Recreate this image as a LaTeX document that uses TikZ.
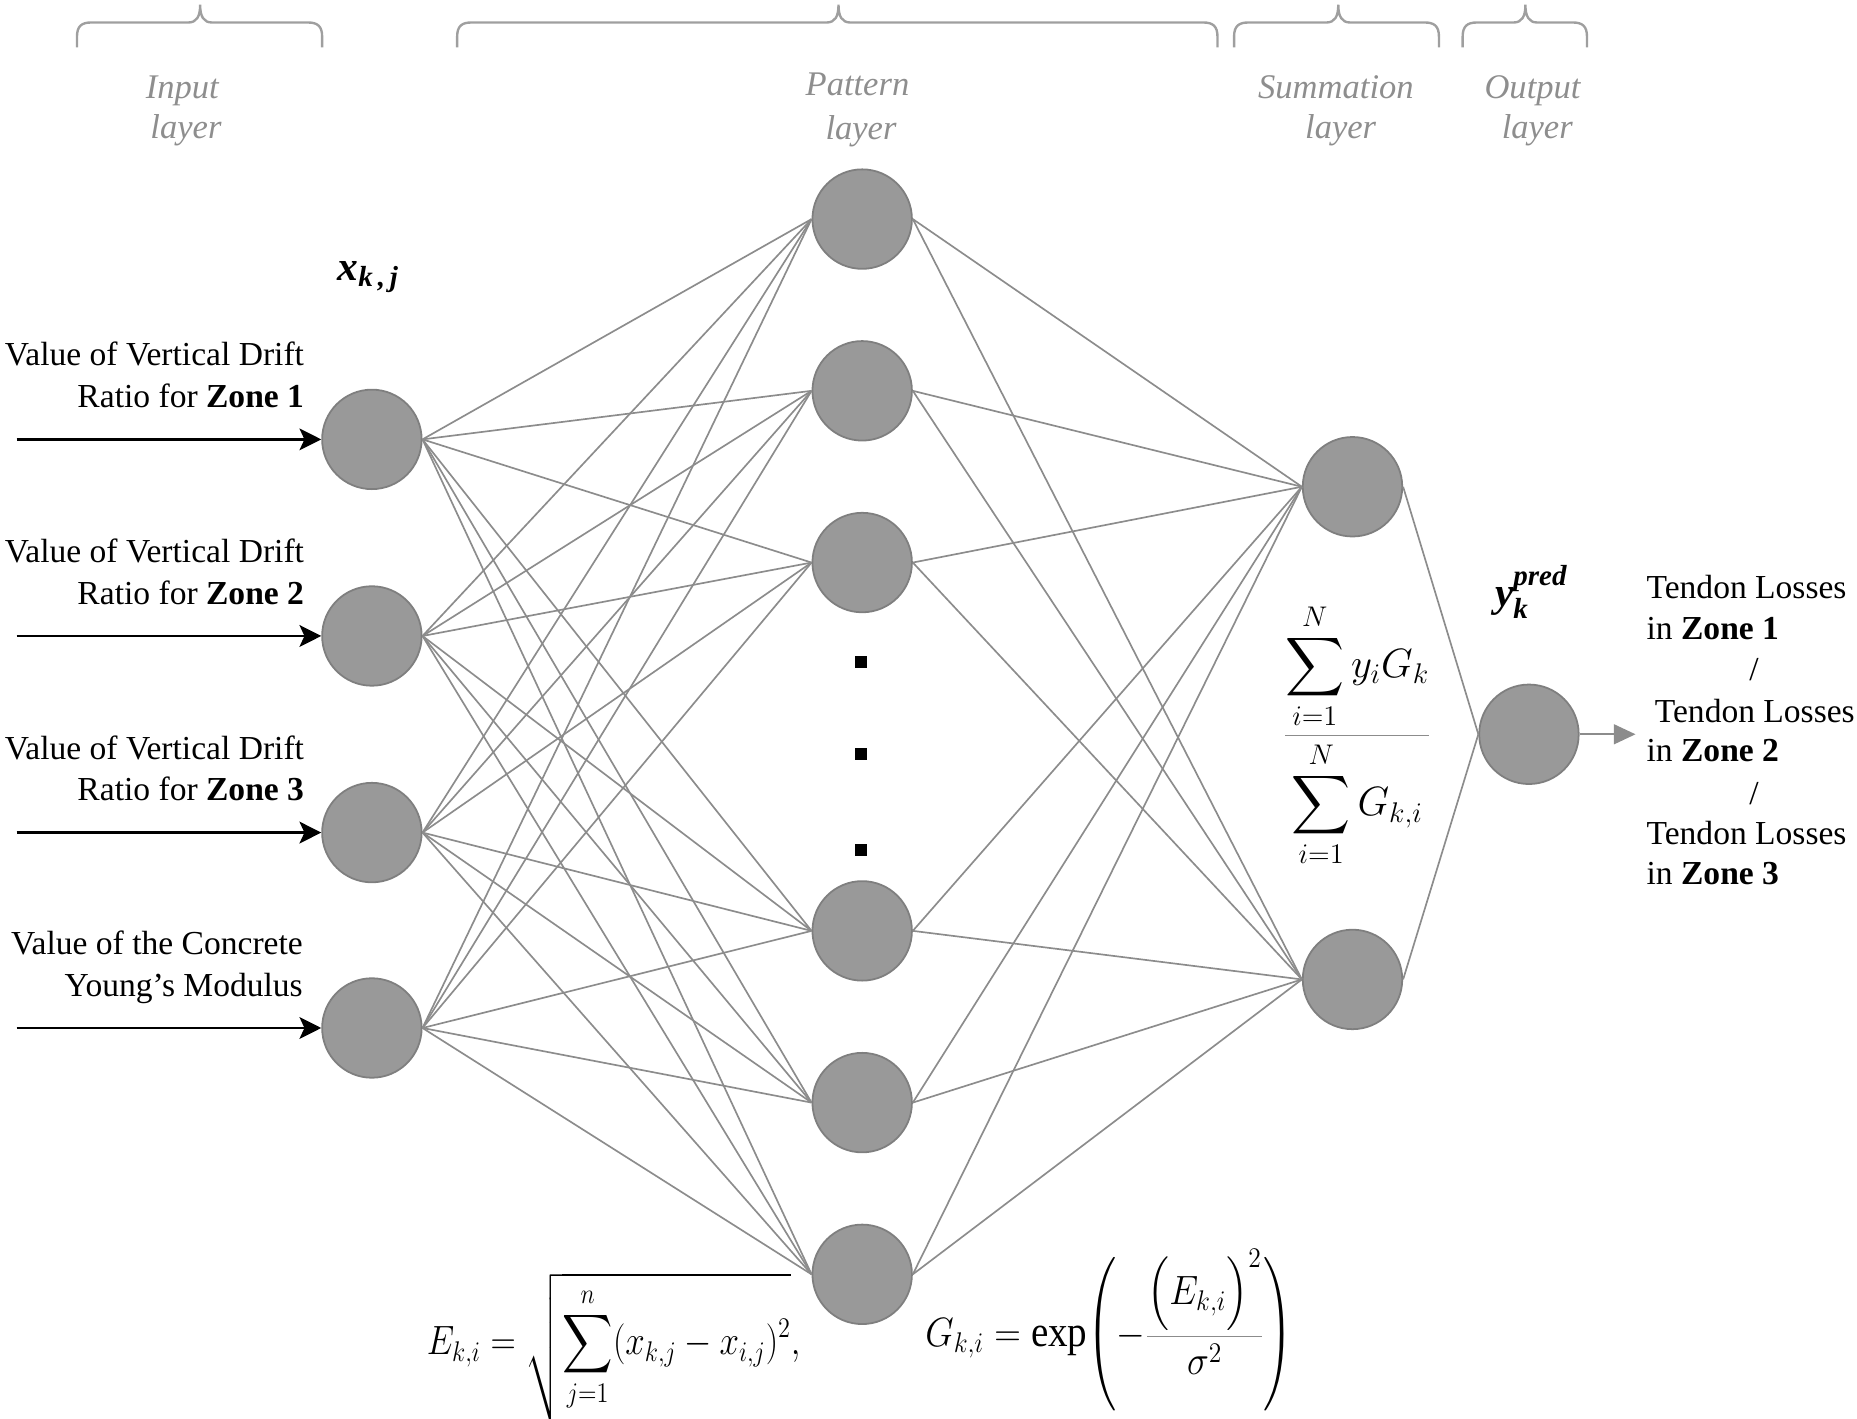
\documentclass[tikz,border=0pt]{standalone}
\usepackage{amsmath}
\usepackage{graphicx}
\usepackage{fontspec}
\setmainfont{Liberation Serif}
\usetikzlibrary{arrows.meta}
\definecolor{nodefill}{HTML}{999999}
\definecolor{nodeline}{HTML}{7F7F7F}
\definecolor{edgecol}{HTML}{8C8C8C}
\definecolor{lblcol}{HTML}{8E8E8E}
\newcommand\drawbrace[3]{%
  \draw[bracestyle] (#1,40) -- (#1,31) .. controls (#1,22) and (#1+4,19) .. (#1+12,19)
   -- (#2-10,19) .. controls (#2-3,19) and (#2,14) .. (#2,4)
   .. controls (#2,14) and (#2+3,19) .. (#2+10,19)
   -- (#3-12,19) .. controls (#3-4,19) and (#3,22) .. (#3,31) -- (#3,40);}
\newcommand\bi[1]{\text{\bfseries\itshape #1}}
\newcommand\tallparL{\mathopen{\scalebox{1}[1.25]{$\Biggl($}}}
\newcommand\tallparR{\mathclose{\scalebox{1}[1.25]{$\Biggr)$}}}
\begin{document}
\begin{tikzpicture}[x=0.6pt,y=-0.6pt,
  neuron/.style={circle,fill=nodefill,draw=nodeline,line width=0.9pt,minimum size=50.4pt,inner sep=0pt},
  edge/.style={draw=edgecol,line width=0.85pt},
  inarrow/.style={draw=black,line width=1.5pt,-{Stealth[length=11pt,width=11pt,inset=2.5pt]}},
  outarrow/.style={draw=edgecol,line width=1.2pt,-{Triangle[length=11pt,width=10pt]}},
  bracestyle/.style={draw=lblcol!85,line width=1.2pt},
  layerlbl/.style={text=lblcol,font=\fontsize{17.5}{21}\selectfont\itshape,inner sep=0pt,anchor=base},
  txt/.style={font=\fontsize{17}{21}\selectfont,inner sep=0pt},
  bigmath/.style={font=\fontsize{21}{25}\selectfont,inner sep=0pt},
  summath/.style={font=\fontsize{20}{24}\selectfont,inner sep=0pt},
  eqmath/.style={font=\fontsize{22}{26}\selectfont,inner sep=0pt,anchor=base west},
  dotsq/.style={rectangle,fill=black,minimum size=6pt,inner sep=0pt},
]
\useasboundingbox (0,0) rectangle (1568,1198);

% braces
\drawbrace{65}{169}{272}
\drawbrace{386}{708}{1028}
\drawbrace{1042}{1130}{1215}
\drawbrace{1235}{1288}{1340}

% layer labels
\node[layerlbl] (li1) at (154,83) {Input};
\node[layerlbl] (li2) at (157,117) {layer};
\node[layerlbl] (lp1) at (724,81) {Pattern};
\node[layerlbl] (lp2) at (727,118) {layer};
\node[layerlbl] (ls1) at (1128,83) {Summation};
\node[layerlbl] (ls2) at (1132,117) {layer};
\node[layerlbl] (lo1) at (1294,83) {Output};
\node[layerlbl] (lo2) at (1298,117) {layer};

% neurons
\node[neuron] (in1) at (314,371) {};
\node[neuron] (in2) at (314,537) {};
\node[neuron] (in3) at (314,703) {};
\node[neuron] (in4) at (314,868) {};
\node[neuron] (p1) at (728,185) {};
\node[neuron] (p2) at (728,330) {};
\node[neuron] (p3) at (728,475) {};
\node[neuron] (p4) at (728,786) {};
\node[neuron] (p5) at (728,931) {};
\node[neuron] (p6) at (728,1076) {};
\node[neuron] (s1) at (1142,411) {};
\node[neuron] (s2) at (1142,827) {};
\node[neuron] (out) at (1291,620) {};

% dots
\node[dotsq] (d1) at (727,559) {};
\node[dotsq] (d2) at (727,637) {};
\node[dotsq] (d3) at (727,718) {};

% connections
\foreach \i in {in1,in2,in3,in4}
  \foreach \j in {p1,p2,p3,p4,p5,p6}
    \draw[edge] (\i.east) -- (\j.west);
\foreach \j in {p1,p2,p3,p4,p5,p6}
  \foreach \k in {s1,s2}
    \draw[edge] (\j.east) -- (\k.west);
\draw[edge] (s1.east) -- (out.west);
\draw[edge] (s2.east) -- (out.west);

% input arrows
\coordinate (a1) at (14,371);
\coordinate (a2) at (14,537);
\coordinate (a3) at (14,703);
\coordinate (a4) at (14,868);
\draw[inarrow] (a1) -- (in1.west);
\draw[inarrow] (a2) -- (in2.west);
\draw[inarrow] (a3) -- (in3.west);
\draw[inarrow] (a4) -- (in4.west);

% output arrow
\coordinate (oe) at (1381,620);
\draw[outarrow] (out.east) -- (oe);

% input texts
\node[txt,anchor=base east] (t1a) at (257,309) {Value of Vertical Drift};
\node[txt,anchor=base east] (t1b) at (257,344) {Ratio for \textbf{Zone 1}};
\node[txt,anchor=base east] (t2a) at (257,475) {Value of Vertical Drift};
\node[txt,anchor=base east] (t2b) at (257,510) {Ratio for \textbf{Zone 2}};
\node[txt,anchor=base east] (t3a) at (257,641) {Value of Vertical Drift};
\node[txt,anchor=base east] (t3b) at (257,676) {Ratio for \textbf{Zone 3}};
\node[txt,anchor=base east] (t4a) at (256,806) {Value of the Concrete};
\node[txt,anchor=base east] (t4b) at (256,841) {Young’s Modulus};

% output texts
\node[txt,anchor=base west] (o1a) at (1390,505) {Tendon Losses};
\node[txt,anchor=base west] (o1b) at (1390,540) {in \textbf{Zone 1}};
\node[txt,anchor=base] (os1) at (1481,575) {/};
\node[txt,anchor=base west] (o2a) at (1397,610) {Tendon Losses};
\node[txt,anchor=base west] (o2b) at (1390,643) {in \textbf{Zone 2}};
\node[txt,anchor=base] (os2) at (1481,679) {/};
\node[txt,anchor=base west] (o3a) at (1390,713) {Tendon Losses};
\node[txt,anchor=base west] (o3b) at (1390,747) {in \textbf{Zone 3}};

% math labels
\node[bigmath] (xkj) at (311,234) {$\bi{x}_{\bi{k\,,\,j}}$};
\node[bigmath] (ypred) at (1293,500) {$\bi{y}_{\bi{k}}^{\bi{pred}}$};

\node[summath] (sumf) at (1146,621)
  {$\color{edgecol}\dfrac{\color{black}\displaystyle\sum_{i=1}^{N} y_i G_k}{\color{black}\displaystyle\sum_{i=1}^{N} G_{k,i}}$};

\node[eqmath] (eqE) at (360,1144)
  {\scalebox{0.855}[1]{$E_{k,i}=\sqrt{\displaystyle\sum_{j=1}^{n}(x_{k,j}-x_{i,j})^2},$}};
\node[eqmath] (eqG) at (781,1137)
  {\scalebox{0.9}[1]{$G_{k,i}=\exp\tallparL-\color{edgecol}\dfrac{\color{black}\Bigl(E_{k,i}\Bigr)^2}{\color{black}\sigma^2}\color{black}\tallparR$}};
\end{tikzpicture}
\end{document}
